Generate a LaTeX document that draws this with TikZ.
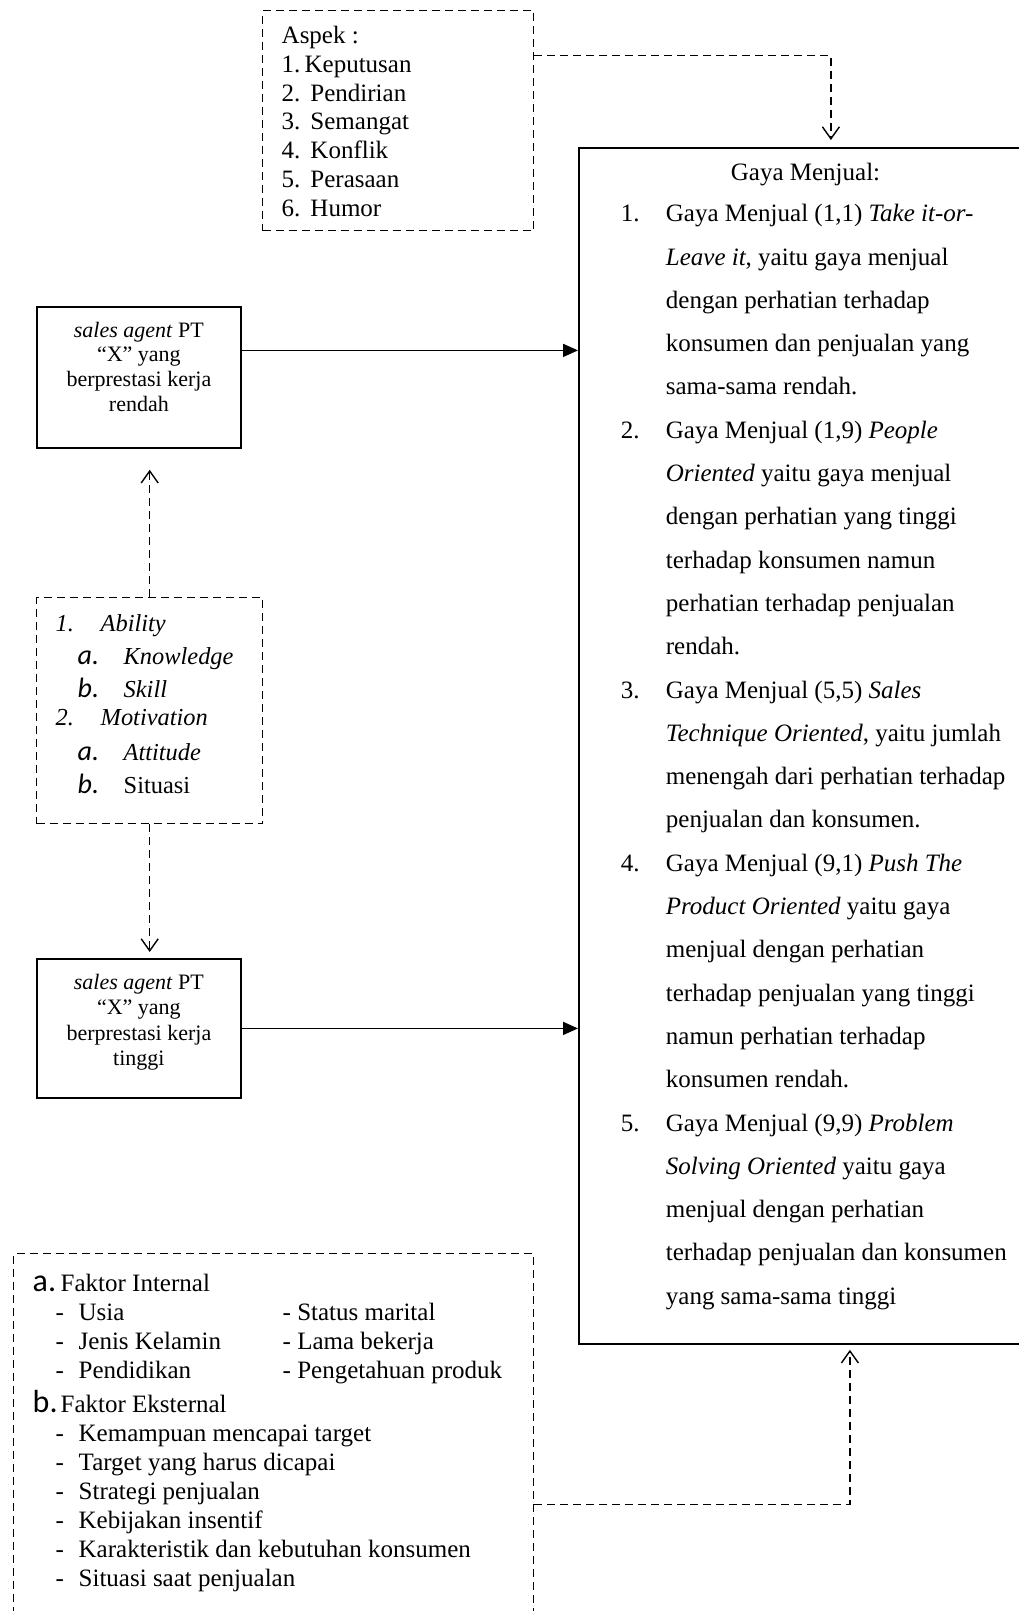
\documentclass[tikz,border=0pt]{standalone}
\usepackage{fontspec}
\setmainfont{Liberation Serif}
\newfontfamily\markfont{Carlito}
\usetikzlibrary{arrows.meta, positioning}

\newcommand{\gnum}[1]{\hspace*{42pt}\makebox[45pt][l]{#1}}
\newcommand{\gcont}{\hspace*{87pt}}
\newcommand{\fhead}[2]{\hspace*{19pt}\makebox[28pt][l]{\markfont\fontsize{32pt}{32pt}\selectfont #1}#2}
\newcommand{\fitem}[1]{\hspace*{42pt}\makebox[23pt][l]{-}#1}
\newcommand{\fpair}[2]{\fitem{\makebox[204pt][l]{#1}- #2}}
\newcommand{\anum}[2]{\hspace*{19pt}\makebox[45pt][l]{#1}#2}
\newcommand{\asub}[2]{\hspace*{41pt}\makebox[46pt][l]{\markfont\itshape\fontsize{28pt}{28pt}\selectfont #1}#2}

\tikzset{
    solid box/.style={rectangle, draw, line width=1.8pt, inner sep=0pt, anchor=north west},
    dash box/.style={rectangle, draw, line width=1.4pt, dash pattern=on 8pt off 5pt, inner sep=0pt, anchor=north west},
    solid link/.style={line width=1.6pt, -{Triangle[length=15pt, width=13pt]}},
    dash link/.style={line width=1.4pt, dash pattern=on 8pt off 5pt, -{Straight Barb[length=12pt, width=17pt]}}
}

\begin{document}
\begin{tikzpicture}[x=1pt, y=-1pt]
    \useasboundingbox (0,0) rectangle (1018,1611);

    % Boxes
    \node[dash box, inner xsep=19pt, font=\fontsize{25pt}{28.75pt}\selectfont] (aspek) at (262,10)
        {\parbox[c][220pt][t]{233pt}{\raggedright\vspace*{15.5pt}
        Aspek :\\
        1.\,Keputusan\\
        2.\hspace{10pt}Pendirian\\
        3.\hspace{10pt}Semangat\\
        4.\hspace{10pt}Konflik\\
        5.\hspace{10pt}Perasaan\\
        6.\hspace{10pt}Humor}};

    \node[solid box, font=\fontsize{25pt}{43.3pt}\selectfont] (gaya) at (578,147)
        {\parbox[c][1196pt][t]{446pt}{\raggedright\vspace*{15pt}
        \hspace*{152pt}Gaya Menjual:\\[-1.8pt]
        \gnum{1.}Gaya Menjual (1,1) \textit{Take it-or-}\\
        \gcont\textit{Leave it}, yaitu gaya menjual\\
        \gcont dengan perhatian terhadap\\
        \gcont konsumen dan penjualan yang\\
        \gcont sama-sama rendah.\\
        \gnum{2.}Gaya Menjual (1,9) \textit{People}\\
        \gcont\textit{Oriented} yaitu gaya menjual\\
        \gcont dengan perhatian yang tinggi\\
        \gcont terhadap konsumen namun\\
        \gcont perhatian terhadap penjualan\\
        \gcont rendah.\\
        \gnum{3.}Gaya Menjual (5,5) \textit{Sales}\\
        \gcont\textit{Technique Oriented}, yaitu jumlah\\
        \gcont menengah dari perhatian terhadap\\
        \gcont penjualan dan konsumen.\\
        \gnum{4.}Gaya Menjual (9,1) \textit{Push The}\\
        \gcont\textit{Product Oriented} yaitu gaya\\
        \gcont menjual dengan perhatian\\
        \gcont terhadap penjualan yang tinggi\\
        \gcont namun perhatian terhadap\\
        \gcont konsumen rendah.\\
        \gnum{5.}Gaya Menjual (9,9) \textit{Problem}\\
        \gcont\textit{Solving Oriented} yaitu gaya\\
        \gcont menjual dengan perhatian\\
        \gcont terhadap penjualan dan konsumen\\
        \gcont yang sama-sama tinggi}};

    \node[solid box, font=\fontsize{22pt}{24.8pt}\selectfont] (rendah) at (36,306)
        {\parbox[c][141pt][t]{204pt}{\centering\vspace*{15pt}
        \textit{sales agent} PT\\ “X” yang\\ berprestasi kerja\\ rendah}};

    \node[dash box, font=\itshape\fontsize{24.4pt}{28pt}\selectfont] (ability) at (36,597)
        {\parbox[c][226pt][t]{226pt}{\raggedright\vspace*{17pt}
        \anum{1.}{Ability}\\[5pt]
        \asub{a.}{Knowledge}\\[5pt]
        \asub{b.}{Skill}\\
        \anum{2.}{Motivation}\\[7pt]
        \asub{a.}{Attitude}\\[5pt]
        \asub{b.}{\textup{Situasi}}}};

    \node[solid box, font=\fontsize{22pt}{25.3pt}\selectfont] (tinggi) at (36,958)
        {\parbox[c][139pt][t]{204pt}{\centering\vspace*{15.5pt}
        \textit{sales agent} PT\\ “X” yang\\ berprestasi kerja\\ tinggi}};

    \node[dash box, font=\fontsize{25pt}{29pt}\selectfont] (faktor) at (13,1253)
        {\parbox[c][388pt][t]{520pt}{\raggedright\vspace*{20.5pt}
        \fhead{a.}{Faktor Internal}\\
        \fpair{Usia}{Status marital}\\
        \fpair{Jenis Kelamin}{Lama bekerja}\\
        \fpair{Pendidikan}{Pengetahuan produk}\\[5pt]
        \fhead{b.}{Faktor Eksternal}\\
        \fitem{Kemampuan mencapai target}\\
        \fitem{Target yang harus dicapai}\\
        \fitem{Strategi penjualan}\\
        \fitem{Kebijakan insentif}\\
        \fitem{Karakteristik dan kebutuhan konsumen}\\
        \fitem{Situasi saat penjualan}}};

    % Connectors
    \draw[dash link, shorten >=7pt] ([yshift=65pt]aspek.east) -| ([xshift=29pt]gaya.north);
    \draw[solid link] ([yshift=27pt]rendah.east) -- ([yshift=27pt]rendah.east -| gaya.west);
    \draw[dash link, shorten >=21pt] (ability.north) -- (ability.north |- rendah.south);
    \draw[dash link, shorten >=6pt] (ability.south) -- (ability.south |- tinggi.north);
    \draw[solid link] (tinggi.east) -- (tinggi.east -| gaya.west);
    \draw[dash link, shorten >=5pt] ([yshift=-57pt]faktor.east) -| ([xshift=48pt]gaya.south);
\end{tikzpicture}
\end{document}
